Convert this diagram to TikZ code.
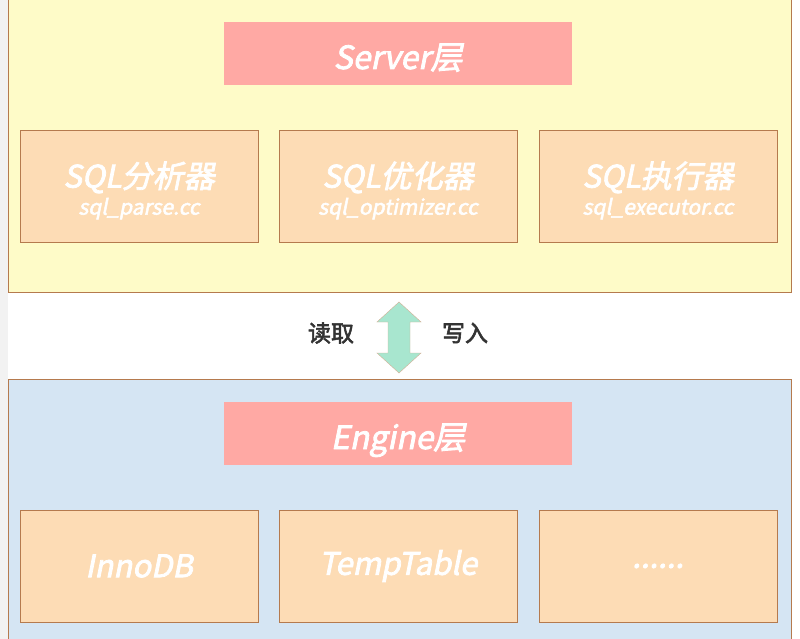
\documentclass[tikz,border=0pt]{standalone}
\usepackage{fontspec}
\usepackage{xcolor}
\usetikzlibrary{shapes,arrows,positioning}
\newfontfamily\cjk[FakeBold=2.5]{Noto Sans CJK SC}
\newfontfamily\cjkit[FakeSlant=0.2,FakeBold=2.5]{Noto Sans CJK SC}
\newcommand{\srcfilesz}{\fontsize{21}{23}\selectfont}
\newcommand{\toppad}{\rule{0pt}{35pt}}
\definecolor{serverbg}{HTML}{FEFBC8}
\definecolor{enginebg}{HTML}{D5E5F3}
\definecolor{titlered}{HTML}{FFA9A4}
\definecolor{modfill}{HTML}{FDDCB5}
\definecolor{modline}{HTML}{B57A4E}
\definecolor{arrowfill}{HTML}{A8E6CF}

\begin{document}
\begin{tikzpicture}[
    x=1pt, y=-1pt,
    panel/.style={rectangle, draw=modline, line width=1pt},
    layertitle/.style={rectangle, fill=titlered, minimum width=348pt, minimum height=63pt, text height=31pt, text depth=0pt, text=white, font=\cjkit\fontsize{32}{34}\selectfont},
    module/.style={rectangle, draw=modline, fill=modfill, minimum width=238pt, minimum height=112pt, text=white, align=center, font=\cjkit\fontsize{31}{33}\selectfont},
    rwlabel/.style={text=black!80, font=\cjk\fontsize{23}{25}\selectfont}
]
\clip (0,0) rectangle (800,639);
\fill[black!5] (0,0) rectangle (8,639);

% Server layer
\draw[panel, fill=serverbg] (8,-5) rectangle (791,292);
\node[layertitle] (srv) at (398,53.5) {Server层};

\node[module] (parse) at (139,186) {\toppad SQL分析器\\[-6pt]{\srcfilesz sql\_parse.cc}};
\node[module] (opt) at (398,186) {\toppad SQL优化器\\[-6pt]{\srcfilesz sql\_optimizer.cc}};
\node[module] (exec) at (658,186) {\toppad SQL执行器\\[-6pt]{\srcfilesz sql\_executor.cc}};

% Engine layer
\draw[panel, fill=enginebg] (8,379) rectangle (791,645);
\node[layertitle] (eng) at (398,433.5) {Engine层};

\node[module] (inno) at (139,566) {InnoDB};
\node[module] (temp) at (398,566) {TempTable};
\node[module] (more) at (658,566) {......};

% Read / write
\coordinate (rw) at (399,337.5);
\draw[draw=modline!60, fill=arrowfill, line join=miter]
  (399,302) -- (421,322) -- (410,322) -- (410,353) -- (421,353) -- (399,373)
  -- (377,353) -- (388,353) -- (388,322) -- (377,322) -- cycle;
\node[rwlabel] (rd) at (331,333) {读取};
\node[rwlabel] (wr) at (465,333) {写入};

\end{tikzpicture}
\end{document}
